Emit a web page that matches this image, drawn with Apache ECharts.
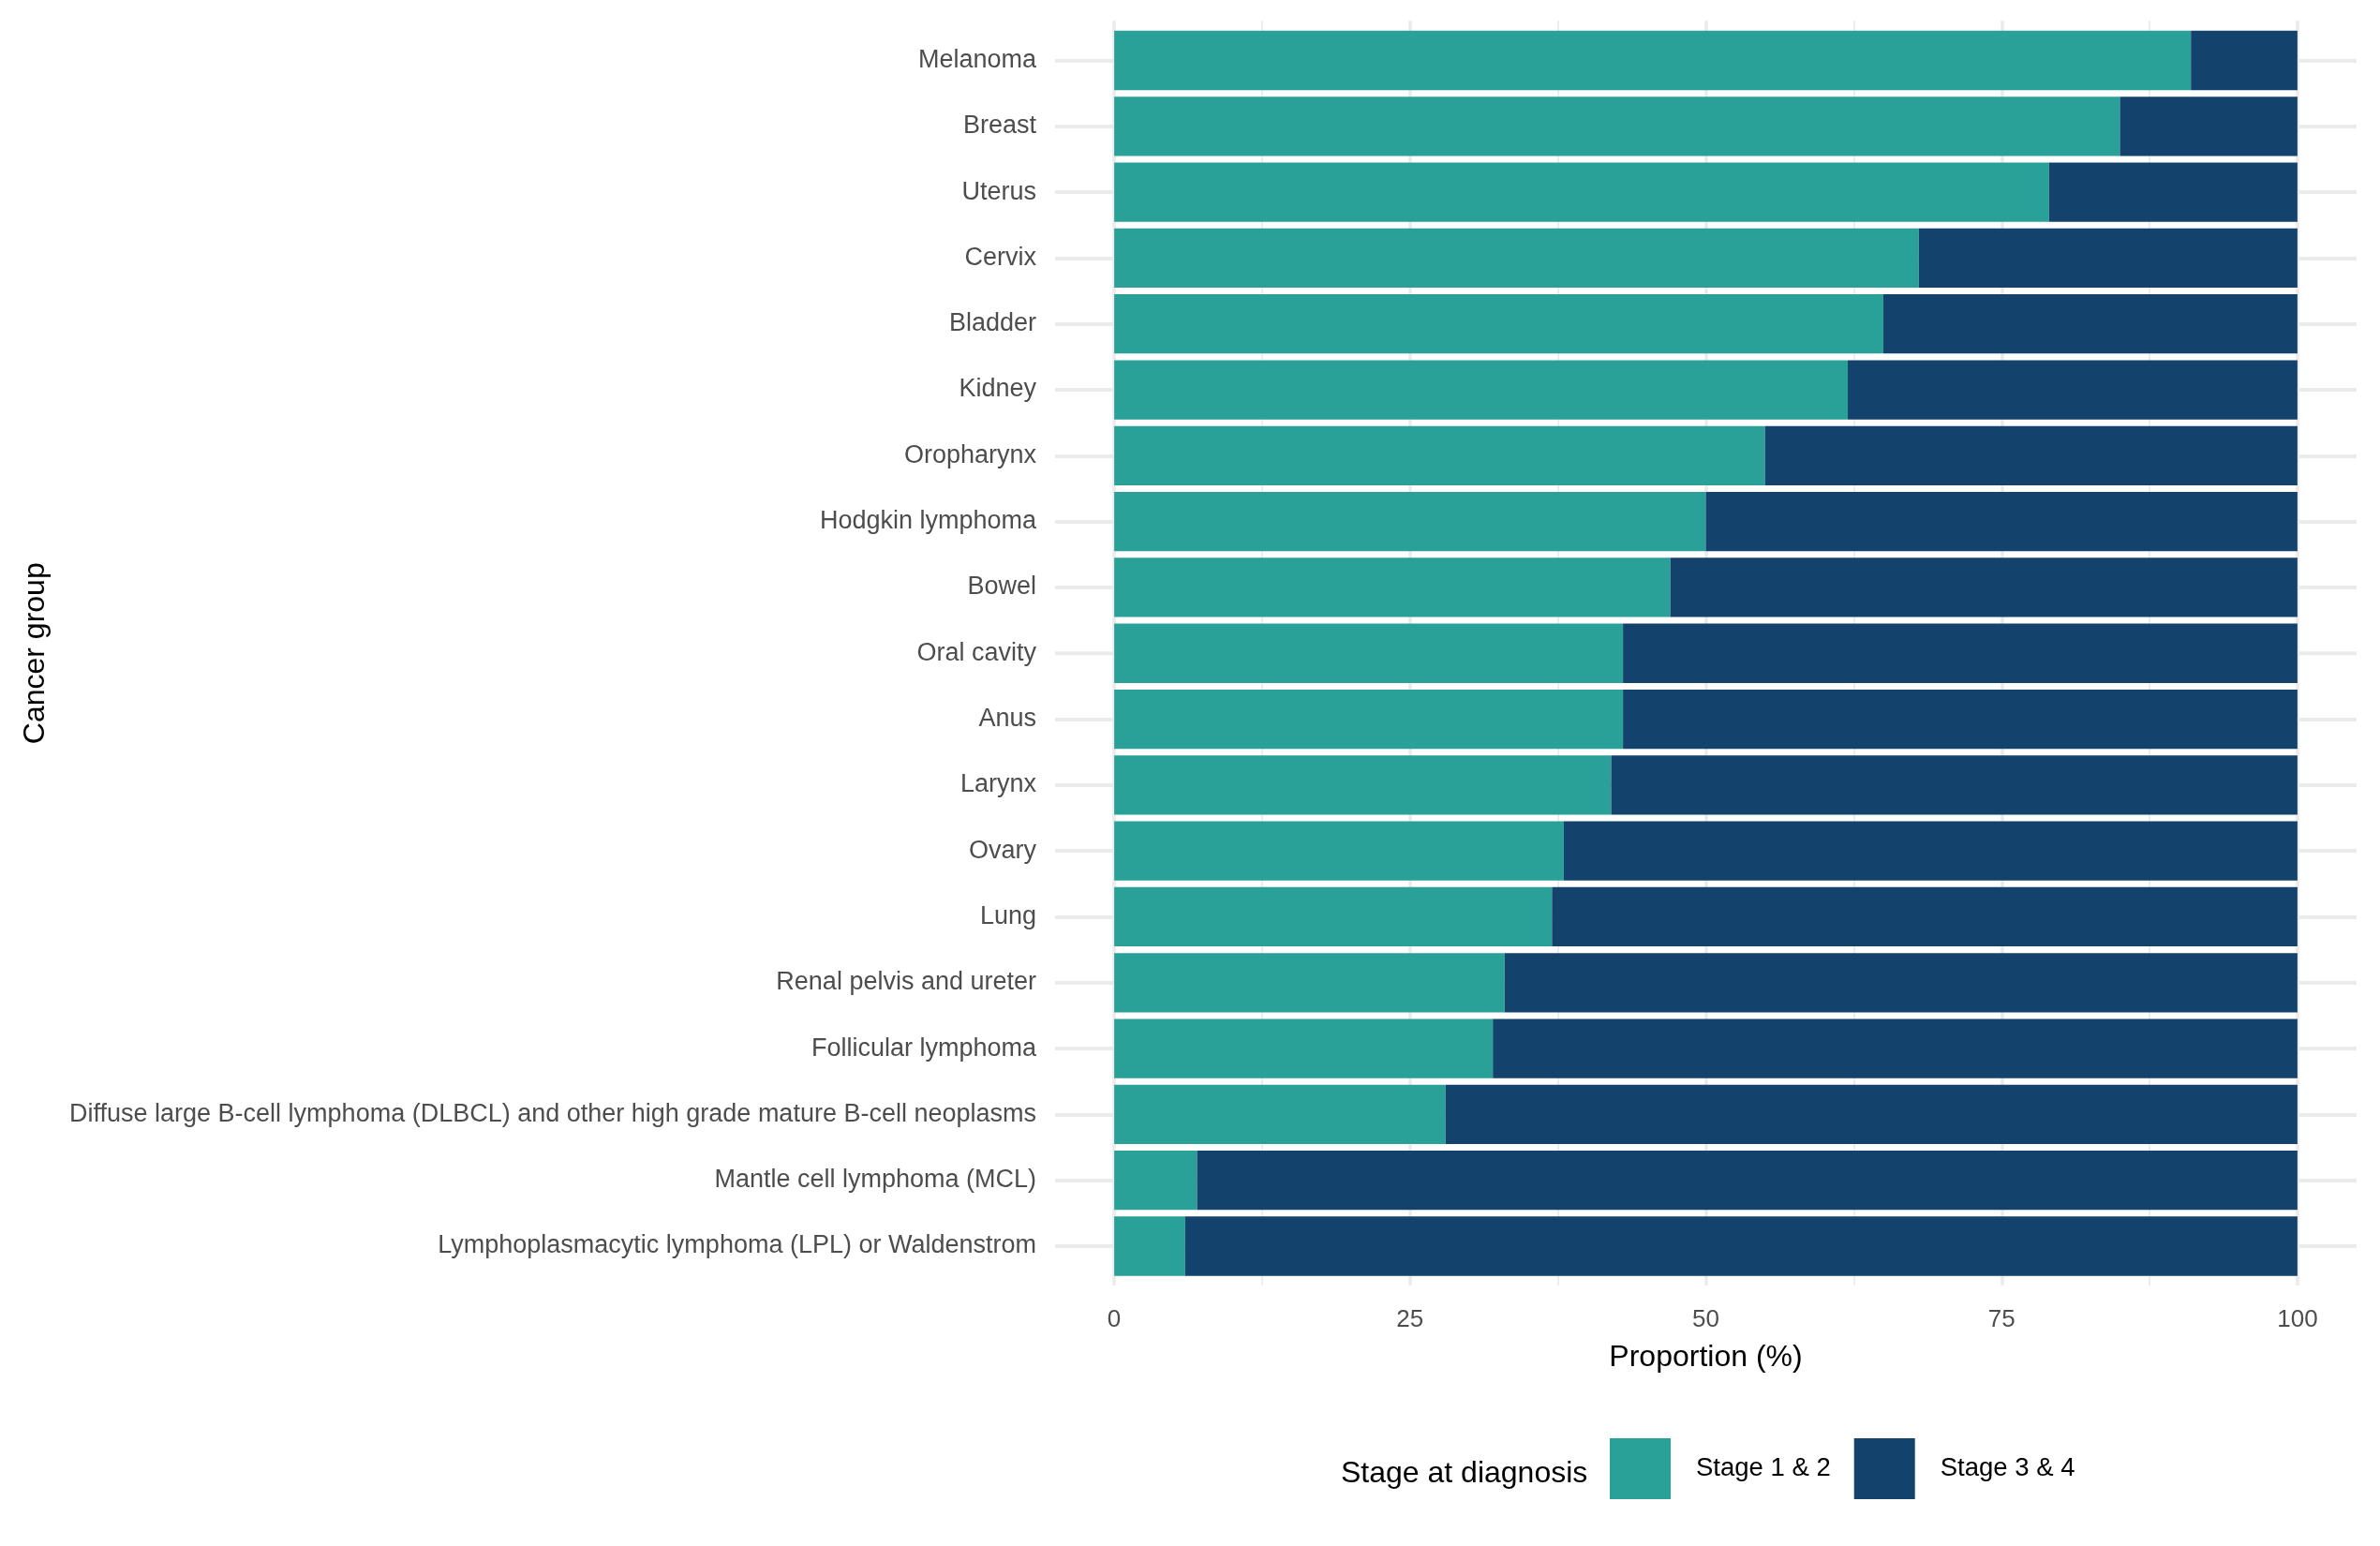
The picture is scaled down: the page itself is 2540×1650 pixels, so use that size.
<!DOCTYPE html>
<html>
<head>
<meta charset="utf-8">
<script src="https://cdn.jsdelivr.net/npm/echarts@6/dist/echarts.min.js"></script>
<style>html,body{margin:0;padding:0;background:#fff}#c{width:2540px;height:1650px}</style>
</head>
<body>
<div id="c"></div>
<script>
const categories = ["Melanoma","Breast","Uterus","Cervix","Bladder","Kidney","Oropharynx","Hodgkin lymphoma","Bowel","Oral cavity","Anus","Larynx","Ovary","Lung","Renal pelvis and ureter","Follicular lymphoma","Diffuse large B-cell lymphoma (DLBCL) and other high grade mature B-cell neoplasms","Mantle cell lymphoma (MCL)","Lymphoplasmacytic lymphoma (LPL) or Waldenstrom"];
const stage12 = [91,85,79,68,65,62,55,50,47,43,43,42,38,37,33,32,28,7,6];
const stage34 = [9,15,21,32,35,38,45,50,53,57,57,58,62,63,67,68,72,93,94];
const seriesNames = ["Stage 1 & 2","Stage 3 & 4"];
const xTicks = [0,25,50,75,100];

const FONT = '"Liberation Sans", Arial, sans-serif';
const chart = echarts.init(document.getElementById('c'), null, {renderer:'canvas'});
chart.setOption({
  animation:false,
  backgroundColor:'#ffffff',
  textStyle:{fontFamily:FONT},
  grid:[
    {left:1189, right:2540-2452, top:22, height:1350, containLabel:false, outerBoundsMode:'none'},
    {left:1126, right:2540-2515, top:29.35, height:1335.8, containLabel:false, outerBoundsMode:'none'}
  ],
  xAxis:[
    {type:'value', gridIndex:0, min:xTicks[0], max:xTicks[xTicks.length-1], interval:25,
     axisLine:{show:false}, axisTick:{show:false},
     axisLabel:{color:'#4D4D4D', fontSize:26, margin:24, fontFamily:FONT,
       formatter:v=>xTicks.includes(v)?String(v):''},
     splitLine:{show:true, lineStyle:{color:'#EBEBEB', width:3.5}},
     minorTick:{show:false, splitNumber:2},
     minorSplitLine:{show:true, lineStyle:{color:'#EBEBEB', width:1.8}},
     name:'Proportion (%)', nameLocation:'middle', nameGap:61,
     nameTextStyle:{color:'#000', fontSize:32, fontFamily:FONT}},
    {type:'value', gridIndex:1, min:-5, max:105, show:false}
  ],
  yAxis:[
    {type:'category', gridIndex:1, data:categories, inverse:true,
     axisLine:{show:false, onZero:false},
     axisTick:{show:true, inside:true, alignWithLabel:true, length:1389, lineStyle:{color:'#EBEBEB', width:4}},
     axisLabel:{color:'#4D4D4D', fontSize:27, margin:20, fontFamily:FONT},
     splitLine:{show:false},
     name:'Cancer group', nameLocation:'middle', nameGap:1072, nameRotate:90,
     nameTextStyle:{color:'#000', fontSize:32, fontFamily:FONT}},
    {type:'value', gridIndex:0, min:0, max:1, show:false}
  ],
  legend:{
    left:1718, top:1535, padding:0, orient:'horizontal', icon:'rect', itemWidth:65, itemHeight:65, itemGap:25,
    data:seriesNames,
    textStyle:{color:'#000', fontSize:27.5, fontFamily:FONT, padding:[0,0,0,22]}
  },
  graphic:[
    {type:'text', left:1431, top:1557, style:{text:'Stage at diagnosis', fill:'#000', font:'32px "Liberation Sans", Arial, sans-serif'}}
  ],
  series:[
    {name:seriesNames[0], type:'bar', stack:'s', xAxisIndex:1, yAxisIndex:0, data:stage12,
     barWidth:'90%', itemStyle:{color:'#29A198'}},
    {name:seriesNames[1], type:'bar', stack:'s', xAxisIndex:1, yAxisIndex:0, data:stage34,
     barWidth:'90%', itemStyle:{color:'#13426C'}}
  ]
});
</script>
</body>
</html>
